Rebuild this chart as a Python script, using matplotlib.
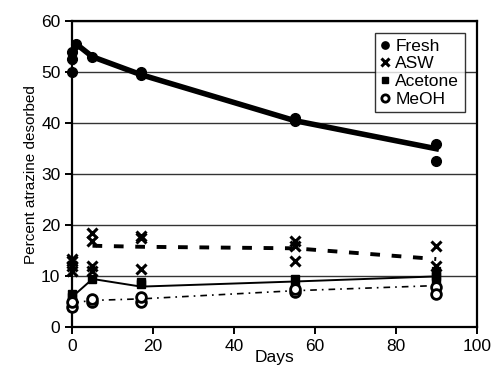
import numpy as np
import matplotlib
matplotlib.use("Agg")
import matplotlib.pyplot as plt

plt.rcParams['font.family'] = ['Liberation Sans', 'DejaVu Sans']

# individual replicate points
fresh_x = [0, 0, 0, 1, 5, 17, 17, 55, 55, 90, 90]
fresh_y = [50, 52.5, 54, 55.5, 53, 49.5, 50, 40.5, 41, 36, 32.5]
asw_x = [0, 0, 0, 0, 5, 5, 5, 5, 17, 17, 17, 55, 55, 55, 90, 90]
asw_y = [11, 12, 13, 13.5, 17, 18.5, 11, 12, 17.5, 18, 11.5, 17, 16, 13, 16, 12]
acetone_x = [0, 0, 0, 0, 5, 17, 17, 55, 55, 90, 90, 90]
acetone_y = [4, 5, 6, 6.5, 9.5, 9, 8.5, 9.5, 8, 11, 10, 9.5]
meoh_x = [0, 0, 5, 5, 17, 17, 55, 55, 90, 90]
meoh_y = [4, 5, 5, 5.5, 5, 6, 7, 7.5, 8, 6.5]

# mean trend lines
fresh_mx = [0, 1, 5, 17, 55, 90]
fresh_my = [52, 55.5, 53, 49.5, 40.5, 35]
asw_mx = [5, 17, 55, 90]
asw_my = [16, 15.8, 15.5, 13.4]
acetone_mx = [0, 5, 17, 55, 90]
acetone_my = [6, 9.5, 8, 9, 10]
meoh_mx = [0, 5, 17, 55, 90]
meoh_my = [4.8, 5.3, 5.6, 7.2, 8.2]

fig = plt.figure(figsize=(4.95, 3.83), dpi=100)
ax = fig.add_axes([0.146, 0.145, 0.817, 0.80])

ax.plot(fresh_mx, fresh_my, color='black', lw=4, zorder=3, clip_on=False)
ax.plot(asw_mx, asw_my, color='black', lw=2.8, ls=(0, (2.5, 3)), zorder=3)
ax.plot(acetone_mx, acetone_my, color='black', lw=1.4, zorder=3, clip_on=False)
ax.plot(meoh_mx, meoh_my, color='black', lw=1.2, ls=(0, (4, 3, 1, 3)), zorder=3, clip_on=False)

ax.plot(fresh_x, fresh_y, 'o', color='black', ms=7, ls='none', label='Fresh', zorder=4, clip_on=False)
ax.plot(asw_x, asw_y, 'x', color='black', ms=7, mew=2.2, ls='none', label='ASW', zorder=4, clip_on=False)
ax.plot(acetone_x, acetone_y, 's', color='black', ms=6, ls='none', label='Acetone', zorder=4, clip_on=False)
ax.plot(meoh_x, meoh_y, 'o', mfc='white', mec='black', mew=2, ms=7, ls='none', label='MeOH', zorder=4, clip_on=False)

ax.set_xlim(0, 100)
ax.set_ylim(0, 60)
ax.set_xticks(np.arange(0, 101, 20))
ax.set_yticks(np.arange(0, 61, 10))
ax.yaxis.grid(True, color='#333333', lw=1.0)
ax.set_axisbelow(True)
for s in ax.spines.values():
    s.set_linewidth(1.6)
ax.tick_params(labelsize=12.5, width=1.4, length=5, direction='out')
ax.set_xlabel('Days', fontsize=12.5, labelpad=-3)
ax.set_ylabel('Percent atrazine desorbed', fontsize=11, labelpad=2)

leg = ax.legend(loc='upper right', fontsize=12.5, frameon=True, fancybox=False,
                edgecolor='black', handlelength=0.6, handletextpad=0.3,
                borderpad=0.3, labelspacing=0.15, borderaxespad=0.7,
                markerscale=0.75)
leg.get_frame().set_linewidth(1.0)

fig.savefig('out.png', dpi=100)
